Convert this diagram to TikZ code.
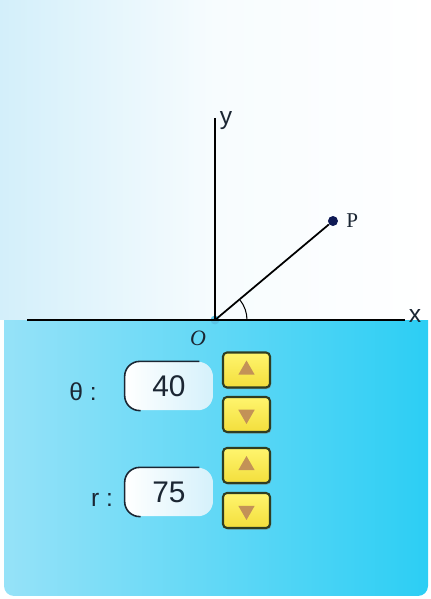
\documentclass[tikz,border=0pt]{standalone}
\usepackage{fontspec}
\setmainfont{Liberation Serif}
\setsansfont{Liberation Sans}
\usepackage{tikz}
\usetikzlibrary{arrows.meta,shapes,shadows,calc,positioning}
\definecolor{skyA}{HTML}{D3EFFA}
\definecolor{skyB}{HTML}{96E2F8}
\definecolor{skyC}{HTML}{2CCEF4}
\definecolor{btnY}{HTML}{FFF56E}
\definecolor{btnYd}{HTML}{F3DE3C}
\definecolor{btnE}{HTML}{2F3D22}
\definecolor{triB}{HTML}{C39257}
\definecolor{boxB}{HTML}{D5F1FB}
\definecolor{inkD}{HTML}{1B2633}
\definecolor{navy}{HTML}{0E1A55}
\definecolor{odot}{HTML}{5CC4E6}
\tikzset{
numbox/.style={rectangle,rounded corners=0.3cm,left color=white,right color=boxB,minimum width=1.76cm,minimum height=0.97cm,font=\sffamily\fontsize{17}{17}\selectfont,text=inkD},
btn/.style={rectangle,rounded corners=0.08cm,draw=btnE,line width=1.2pt,top color=btnY,bottom color=btnYd,minimum width=0.94cm,minimum height=0.7cm,drop shadow={shadow xshift=0.7pt,shadow yshift=-0.9pt,opacity=0.55}},
tri/.style={regular polygon,regular polygon sides=3,fill=triB,inner sep=0pt,minimum size=0.38cm},
boxedge/.style={inkD,line width=0.9pt,rounded corners=0.3cm},
lab/.style={text=inkD,font=\sffamily\fontsize{14}{14}\selectfont}
}
\begin{document}
\begin{tikzpicture}[x=0.02cm,y=0.02cm]
\useasboundingbox (0,0) rectangle (430,599);
\shade[left color=skyB,right color=skyC,rounded corners=0.2cm] (4,300) rectangle (428,3);
\shade[left color=skyA,right color=white,middle color=white!82!skyA] (0,279) rectangle (430,599);
\coordinate (O) at (215,279);
\coordinate (xl) at (27,279);
\coordinate (xr) at (405,279);
\coordinate (yt) at (215,481);
\fill[odot] (O) circle[radius=4.5];
\draw[line width=1.3pt] (xl)--(xr);
\draw[line width=1.3pt] (O)--(yt);
\node[circle,fill=navy,inner sep=0pt,minimum size=0.2cm] (P) at ($(O)+(40:154)$) {};
\draw[line width=1pt] (O)--(P);
\draw[line width=0.6pt] ($(O)+(32,0)$) arc[start angle=0,end angle=38,radius=32];
\node[lab] (xlab) at (415,283) {x};
\node[lab] (ylab) at (226,478) {y};
\node[text=inkD,font=\fontsize{12}{12}\selectfont,right=1pt of P] (plab) {P};
\node[text=inkD,font=\itshape\fontsize{12.5}{12}\selectfont] (olab) at (198,261) {O};
\node[lab] (thlab) at (83,207) {θ :};
\node[lab] (rlab) at (102,99) {r :};
\node[numbox] (thbox) at (169,213) {40};
\node[numbox] (rbox) at (169,107) {75};
\draw[boxedge] ($(thbox.north east)+(-14,0)$) -- (thbox.north west) -- (thbox.south west) -- ($(thbox.south west)+(16,0)$);
\draw[boxedge] ($(rbox.north east)+(-14,0)$) -- (rbox.north west) -- (rbox.south west) -- ($(rbox.south west)+(16,0)$);
\node[btn] (thup) at (246.5,229) {};
\node[btn] (thdn) at (246.5,184.5) {};
\node[btn] (rup) at (246.5,133.5) {};
\node[btn] (rdn) at (246.5,88.5) {};
\node[tri] at (thup) {};
\node[tri,shape border rotate=180] at (thdn) {};
\node[tri] at (rup) {};
\node[tri,shape border rotate=180] at (rdn) {};
\end{tikzpicture}
\end{document}
